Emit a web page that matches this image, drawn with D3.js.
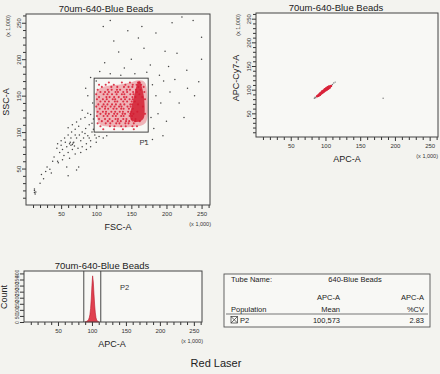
<!DOCTYPE html>
<html><head><meta charset="utf-8">
<script src="https://cdn.jsdelivr.net/npm/d3@7"></script>
<style>
body{margin:0;background:#f3f3ef}
svg{display:block;font-family:"Liberation Sans",Arial,sans-serif}
</style>
</head><body>
<svg id="c" width="440" height="374"></svg>
<script>
// ---------------- DATA ----------------
const plotTitle = "70um-640-Blue Beads";
const majorTicks = [50, 100, 150, 200, 250];
const minorTicks = [10,20,30,40,60,70,80,90,110,120,130,140,160,170,180,190,210,220,230,240,260];
const scaleNote = "(x 1,000)";

// FSC-A vs SSC-A: events outside the gate (grey)
const fscSscGrey = [
 [120,253],[208,250],[238,253],[222,258],[145,239],[125,225],[160,229],[198,211],[215,208],[229,185],
 [246,169],[177,192],[132,210],[150,200],[168,215],[185,236],[140,188],[112,195],[105,183],[190,178],
 [203,190],[155,180],[120,180],[135,178],[172,182],[196,170],[212,172],[230,160],[240,150],[180,165],
 [185,150],[192,140],[205,155],[218,140],[188,125],[200,115],[182,105],[178,120],[225,120],[195,95],
 [180,90],[170,88],[110,245],[165,245],[250,200],[250,230],[92,175],[100,170],[85,160],[88,150],
 [95,140],[80,130],
 [90,110],[85,105],[80,100],[75,108],[70,104],[65,100],[60,96],[55,92],[50,88],[45,84],
 [88,95],[82,92],[78,88],[72,92],[68,86],[62,84],[58,80],[52,76],[48,72],[44,78],
 [92,88],[86,84],[80,80],[74,78],[66,76],[60,72],[54,68],[94,100],[90,92],[84,98],
 [76,96],[70,96],[64,92],[56,86],[50,82],[66,110],[60,106],[72,114],[78,118],[84,120],
 [88,126],[92,124],[96,118],[94,112],[96,104],[98,96],[100,92],[104,94],[110,92],[115,95],
 [100,86],[92,80],[86,76],[78,72],[70,70],[66,83],[64,82],[67,85],[63,86],[69,81],
 [40,66],[38,60],[34,49],[30,52],[28,46],[36,44],[22,42],[46,58],[58,52],[75,52],
 [72,48],[60,40],[25,36],[20,30],[12,20],[12,17],[13,15],[12,22],[14,18],[45,60],
 [52,62],[62,64]
];
// events inside gate P1 (red), rows of [SSC-A, FSC-A values]
const fscSscRedRows = [
 [168,[118,135,148,158,162]],
 [165,[104,112,125,140,152,156,164]],
 [162,[108,120,130,138,146,150,160,166]],
 [158,[102,115,122,128,134,142,148,155,163]],
 [155,[106,111,118,126,131,137,144,151,158,167]],
 [152,[100,109,116,121,129,135,140,147,153,160]],
 [148,[104,113,119,124,132,138,143,150,156,164]],
 [145,[101,108,115,122,127,134,141,146,152,168]],
 [142,[106,111,118,125,130,137,144,149,155]],
 [138,[103,109,116,121,128,133,140,147,151,158]],
 [135,[100,107,113,119,126,131,136,143,149,165]],
 [132,[105,111,117,123,129,134,139,145,152]],
 [128,[102,108,114,120,127,132,138,144,150,157]],
 [125,[106,112,118,124,130,136,141,147,153,168]],
 [122,[101,109,116,122,128,134,139,146,151]],
 [118,[104,111,119,126,131,137,143,149,156]],
 [115,[108,115,123,129,135,141,147,154,162]],
 [112,[102,112,120,127,133,140,146,152]],
 [108,[106,118,126,134,142,150,158]],
 [104,[110,124,138,152]]
];
// density outlines [FSC-A, SSC-A]
const cloudOutline = [[101,157],[113,163],[131,165],[149,168],[160,171],[170,167],[173,146],[173,121],
 [167,110],[149,107],[127,107],[106,110],[100,125],[99,146]];
const coreOutline = [[161,170],[165,162],[168,148],[169,132],[168,120],[163,115],[156,114],[150,116],
 [148,124],[151,136],[154,150],[157,162]];
const gateP1 = {x0: 97, x1: 174, y0: 100, y1: 174, label: "P1", lx: 168, ly: 82};

// APC-A vs APC-Cy7-A
const apcRed = [[88,86],[89,87],[90,88],[91,89],[92,91],[93,92],[94,93],[95,94],[96,95],[97,96],
 [98,98],[99,99],[100,100],[101,101],[102,102],[103,103],[104,104],[105,105],[106,106],[107,107],
 [90,87],[92,89],[94,92],[96,94],[98,96],[100,98],[102,100],[104,102],[106,104],[91,90],[93,93],
 [95,96],[97,98],[99,101],[101,103],[103,105],[105,107],[108,108]];
const apcGrey = [[84,82],[85,84],[110,111],[112,114],[114,116],[86,83],[183,82]];

// Histogram APC-A counts
const histBins = [90,91,92,93,94,95,96,97,98,99,100,101,102,103,104,105,106,107,108,109,110];
const histCounts = [2,3,5,8,12,20,35,60,110,190,300,380,330,230,140,75,35,15,8,4,2];
const countTicks = [0,50,100,150,200,250,300,350,400];
const gateP2 = {x0: 88, x1: 113, label: "P2", lx: 148, ly: 265};

// Stats table
const tableTube = ["Tube Name:", "640-Blue Beads"];
const tableHead1 = ["", "APC-A", "APC-A"];
const tableHead2 = ["Population", "Mean", "%CV"];
const tableRow = ["P2", "100,573", "2.83"];
const footer = "Red Laser";

// ---------------- DRAW ----------------
const svg = d3.select("#c");
const ink = "#333";
const red = "#d9243a";

function drawAxes(g, x, y, opt) {
  const [x0, x1] = x.range();
  const [yb, yt] = y.range();
  g.append("g").attr("transform", `translate(0,${yb})`)
    .call(d3.axisBottom(x).tickValues(minorTicks.filter(v => v < x.domain()[1])).tickSize(3).tickFormat(""))
    .call(a => a.select(".domain").remove());
  g.append("g").attr("transform", `translate(0,${yb})`)
    .call(d3.axisBottom(x).tickValues(majorTicks).tickSize(4).tickPadding(3).tickFormat(d3.format("d")))
    .call(a => a.select(".domain").remove())
    .call(a => a.selectAll("text").attr("font-size", 6).attr("fill", ink));
  if (opt.yMinor) {
    g.append("g").attr("transform", `translate(${x0},0)`)
      .call(d3.axisLeft(y).tickValues(opt.yMinor).tickSize(3).tickFormat(""))
      .call(a => a.select(".domain").remove());
  }
  g.append("g").attr("transform", `translate(${x0},0)`)
    .call(d3.axisLeft(y).tickValues(opt.yMajor).tickSize(4).tickFormat(opt.yFormat || d3.format("d")))
    .call(a => a.select(".domain").remove())
    .call(a => a.selectAll("text").attr("font-size", opt.yFont || 6).attr("fill", ink)
      .attr("transform", "rotate(-90)").attr("x", 0).attr("y", -5).attr("dy", 0)
      .attr("text-anchor", "middle"));
  g.selectAll(".tick line").attr("stroke", ink);
  g.append("rect").attr("x", x0).attr("y", yt).attr("width", x1 - x0).attr("height", yb - yt)
    .attr("fill", "none").attr("stroke", "#444").attr("stroke-width", 1);
  g.append("text").attr("x", opt.titleX).attr("y", yt - 2).attr("text-anchor", "middle")
    .attr("font-size", 9.5).attr("fill", "#222").text(plotTitle);
  g.append("text").attr("x", opt.xLabelX).attr("y", yb + 25).attr("text-anchor", "middle")
    .attr("font-size", 9).attr("fill", "#222").text(opt.xLabel);
  g.append("text").attr("x", Math.min(x1 + 1, 438)).attr("y", yb + 21).attr("text-anchor", "end")
    .attr("font-size", 5.5).attr("fill", ink).text(scaleNote);
  g.append("text").attr("transform", `translate(${x0 - 17},${opt.yLabelY}) rotate(-90)`)
    .attr("text-anchor", "middle").attr("font-size", 9).attr("fill", "#222").text(opt.yLabel);
  if (opt.yNote) {
    g.append("text").attr("transform", `translate(${x0 - 16},${yt + 12}) rotate(-90)`)
      .attr("text-anchor", "middle").attr("font-size", 5.5).attr("fill", ink).text(scaleNote);
  }
}

// Panel 1: FSC-A vs SSC-A
{
  const g = svg.append("g");
  const x = d3.scaleLinear().domain([0, 262]).range([26, 210]);
  const y = d3.scaleLinear().domain([0, 262]).range([205, 14]);
  g.append("rect").attr("x", 26).attr("y", 14).attr("width", 184).attr("height", 191).attr("fill", "#f8f8f5");
  g.selectAll("circle.grey").data(fscSscGrey).join("circle").attr("class", "grey")
    .attr("cx", d => x(d[0])).attr("cy", d => y(d[1])).attr("r", 0.75).attr("fill", "#444");
  const line = d3.line().x(d => x(d[0])).y(d => y(d[1])).curve(d3.curveCardinalClosed);
  g.append("path").attr("d", line(cloudOutline)).attr("fill", "#e4606c").attr("opacity", 0.45);
  const redPts = fscSscRedRows.flatMap(([yy, xs]) => xs.map((xx, i) => [xx + (i % 2 ? 1.5 : 0), yy]));
  g.selectAll("circle.red").data(redPts).join("circle").attr("class", "red")
    .attr("cx", d => x(d[0])).attr("cy", d => y(d[1])).attr("r", 1.05).attr("fill", red).attr("opacity", 0.9);
  g.append("path").attr("d", line(coreOutline)).attr("fill", "#d21c30").attr("opacity", 0.85);
  g.append("rect").attr("x", x(gateP1.x0)).attr("y", y(gateP1.y1))
    .attr("width", x(gateP1.x1) - x(gateP1.x0)).attr("height", y(gateP1.y0) - y(gateP1.y1))
    .attr("fill", "none").attr("stroke", "#333").attr("stroke-width", 0.9);
  g.append("text").attr("x", x(gateP1.lx)).attr("y", y(gateP1.ly)).attr("text-anchor", "middle")
    .attr("font-size", 7.5).attr("fill", ink).text(gateP1.label);
  drawAxes(g, x, y, {yMajor: majorTicks, yMinor: minorTicks, titleX: 106, xLabel: "FSC-A", xLabelX: 118,
    yLabel: "SSC-A", yLabelY: 102, yNote: true});
}

// Panel 2: APC-A vs APC-Cy7-A
{
  const g = svg.append("g");
  const x = d3.scaleLinear().domain([0, 262]).range([256, 438]);
  const y = d3.scaleLinear().domain([0, 262]).range([137, 13]);
  g.append("rect").attr("x", 256).attr("y", 13).attr("width", 182).attr("height", 124).attr("fill", "#f8f8f5");
  g.selectAll("circle.grey").data(apcGrey).join("circle").attr("class", "grey")
    .attr("cx", d => x(d[0])).attr("cy", d => y(d[1])).attr("r", 0.7).attr("fill", "#777");
  g.selectAll("circle.red").data(apcRed).join("circle").attr("class", "red")
    .attr("cx", d => x(d[0])).attr("cy", d => y(d[1])).attr("r", 1.2).attr("fill", red);
  drawAxes(g, x, y, {yMajor: majorTicks, yMinor: minorTicks, titleX: 336, xLabel: "APC-A", xLabelX: 347,
    yLabel: "APC-Cy7-A", yLabelY: 78, yNote: true});
}

// Panel 3: APC-A histogram
{
  const g = svg.append("g");
  const x = d3.scaleLinear().domain([0, 262]).range([24, 202]);
  const y = d3.scaleLinear().domain([0, 420]).range([322, 271]);
  g.append("rect").attr("x", 24).attr("y", 271).attr("width", 178).attr("height", 51).attr("fill", "#f8f8f5");
  const pts = histBins.map((b, i) => [b, histCounts[i]]);
  const area = d3.area().x(d => x(d[0])).y0(y(0)).y1(d => y(d[1])).curve(d3.curveLinear);
  g.append("path").attr("d", area(pts)).attr("fill", "#e0404e").attr("stroke", "#b8182c").attr("stroke-width", 0.6);
  [gateP2.x0, gateP2.x1].forEach(v => g.append("line").attr("x1", x(v)).attr("x2", x(v))
    .attr("y1", 271).attr("y2", 322).attr("stroke", "#333").attr("stroke-width", 0.9));
  g.append("text").attr("x", x(gateP2.lx)).attr("y", y(gateP2.ly)).attr("text-anchor", "middle")
    .attr("font-size", 7.5).attr("fill", ink).text(gateP2.label);
  drawAxes(g, x, y, {yMajor: countTicks, titleX: 102, xLabel: "APC-A", xLabelX: 112,
    yLabel: "Count", yLabelY: 297, yFont: 5});
}

// Table
{
  const g = svg.append("g").attr("font-size", 7.5).attr("fill", "#222");
  g.append("rect").attr("x", 224).attr("y", 274).attr("width", 206).attr("height", 53)
    .attr("fill", "#f8f8f5").attr("stroke", "#555").attr("stroke-width", 0.9);
  g.append("line").attr("x1", 226).attr("x2", 428).attr("y1", 314).attr("y2", 314).attr("stroke", "#777");
  const colX = [231, 340, 424];
  g.append("text").attr("x", colX[0]).attr("y", 282).text(tableTube[0]);
  g.append("text").attr("x", 355).attr("y", 282).attr("text-anchor", "middle").text(tableTube[1]);
  tableHead1.forEach((t, i) => i && g.append("text").attr("x", colX[i]).attr("y", 300).attr("text-anchor", "end").text(t));
  tableHead2.forEach((t, i) => g.append("text").attr("x", colX[i]).attr("y", 311.5)
    .attr("text-anchor", i ? "end" : "start").text(t));
  g.append("rect").attr("x", 231).attr("y", 316.5).attr("width", 6.5).attr("height", 6.5)
    .attr("fill", "none").attr("stroke", "#333").attr("stroke-width", 0.7);
  g.append("path").attr("d", "M231,316.5L237.5,323M237.5,316.5L231,323").attr("stroke", "#333").attr("stroke-width", 0.7);
  tableRow.forEach((t, i) => g.append("text").attr("x", i ? colX[i] : 240).attr("y", 323)
    .attr("text-anchor", i ? "end" : "start").text(t));
}

svg.append("text").attr("x", 216).attr("y", 367).attr("text-anchor", "middle")
  .attr("font-size", 11).attr("fill", "#222").text(footer);
</script>
</body></html>
